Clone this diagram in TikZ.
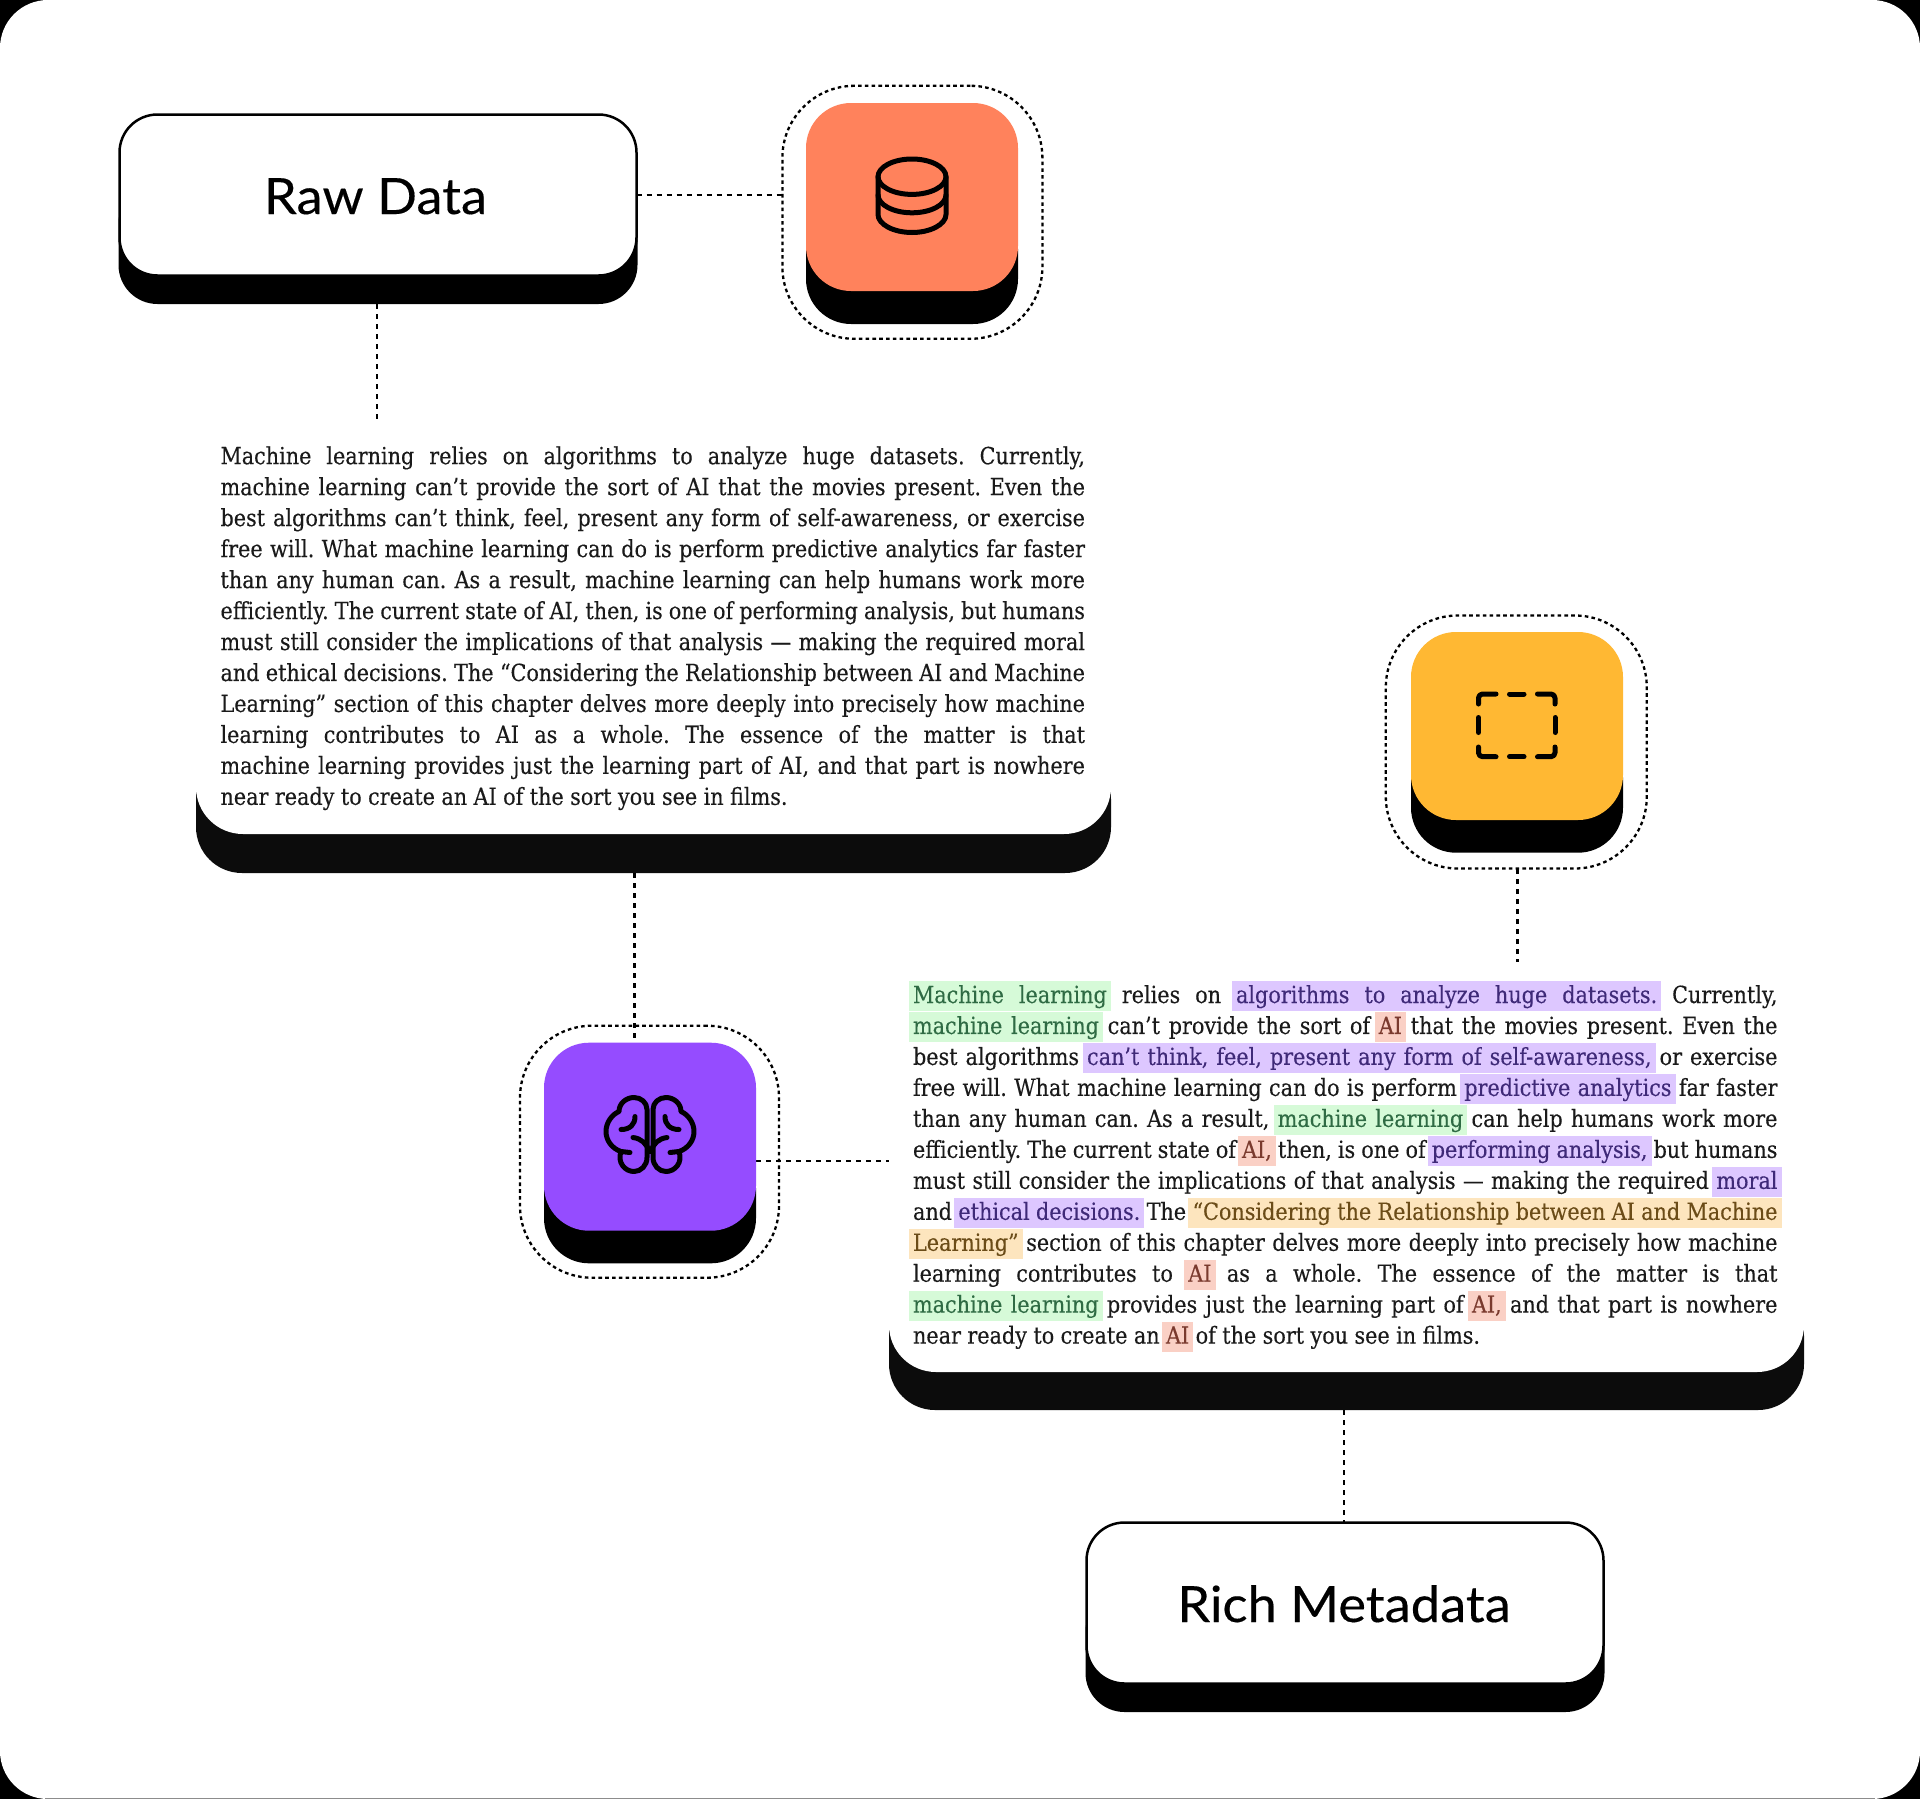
\documentclass[tikz,border=0pt]{standalone}
\usepackage{fontspec}
\setmainfont{DejaVu Serif}[FakeStretch=0.88,FakeBold=0.25]
\newfontfamily\titlefont{Lato}[FakeStretch=1.05,FakeBold=0.3]
\definecolor{ink}{HTML}{1A1A1A}
\definecolor{cardshadow}{HTML}{0C0C0C}
\definecolor{orangetile}{HTML}{FF825C}
\definecolor{purpletile}{HTML}{954CFF}
\definecolor{yellowtile}{HTML}{FFB833}
\definecolor{hlg}{HTML}{D6FAD8}\definecolor{txg}{HTML}{2F6B44}
\definecolor{hlp}{HTML}{DDC7FF}\definecolor{txp}{HTML}{3F2A78}
\definecolor{hlo}{HTML}{FDE5BE}\definecolor{txo}{HTML}{6B4C18}
\definecolor{hlr}{HTML}{FAD0C5}\definecolor{txr}{HTML}{7A3A2E}
\newdimen\linew
\def\hlrule#1{{\color{\hlbg}\vrule height22pt depth8pt width#1}}
\def\hlword#1{\setbox0\hbox{{\color{\hlfg}#1}}\rlap{\hlrule{\wd0}}\box0 }
\def\hlspace{{\color{\hlbg}\leaders\hrule height22pt depth8pt\hskip\spaceskip}}
\def\hlloop#1 #2\relax{\hlword{#1}\if\relax\detokenize{#2}\relax\else\hlspace\hlloop#2\relax\fi}
\newcommand\HL[3]{\def\hlbg{#1}\def\hlfg{#2}\llap{\hlrule{4pt}}\hlloop#3 \relax\rlap{\hlrule{4pt}}}
\newcommand\HG[1]{\HL{hlg}{txg}{#1}}
\newcommand\HP[1]{\HL{hlp}{txp}{#1}}
\newcommand\HO[1]{\HL{hlo}{txo}{#1}}
\newcommand\HR[1]{\HL{hlr}{txr}{#1}}
\newcommand\JL[1]{\hbox to\linew{#1}}
\newcommand\LL[1]{\hbox{#1}}
\newcommand\paraset{\fontsize{23.6}{30.97}\selectfont\color{ink}\frenchspacing\spaceskip=6.4pt plus 60pt minus 5.6pt\relax\baselineskip=30.97pt\lineskiplimit=-100pt\lineskip=0pt\relax}
\tikzset{
 boxface/.style={rectangle,rounded corners=38pt,fill=white,draw=black,line width=2.5pt,inner sep=0pt,outer sep=0pt,minimum width=517pt,minimum height=161pt},
 boxshadow/.style={rectangle,rounded corners=39pt,fill=black,draw=none,inner sep=0pt,outer sep=0pt,minimum width=519pt,minimum height=120pt},
 cardface/.style={rectangle,rounded corners=47pt,fill=white,draw=none,inner sep=0pt,outer sep=0pt,minimum width=915pt,minimum height=120pt},
 cardshade/.style={rectangle,rounded corners=46pt,fill=cardshadow,draw=none,inner sep=0pt,outer sep=0pt,minimum width=915pt,minimum height=120pt},
 tileface/.style={rectangle,rounded corners=45pt,draw=none,inner sep=0pt,outer sep=0pt,minimum width=212pt,minimum height=188pt},
 tileshade/.style={rectangle,rounded corners=45pt,fill=black,draw=none,inner sep=0pt,outer sep=0pt,minimum width=212pt,minimum height=120pt},
 ringbox/.style={rectangle,rounded corners=72pt,draw=black,line width=2.3pt,dash pattern=on 3.6pt off 3.2pt,inner sep=0pt,outer sep=0pt,minimum width=260pt,minimum height=253pt},
 conn/.style={draw=black,line width=2.5pt,dash pattern=on 5pt off 5pt},
 icon/.style={draw=black,line width=5pt,line cap=round,line join=round},
 titletext/.style={font=\titlefont\fontsize{50}{58}\selectfont,text=black,anchor=base,inner sep=0pt},
 para/.style={anchor=base west,inner sep=0pt,outer sep=0pt}
}
\newcommand\brainhalf{%
 \draw[icon] (-3,-24) .. controls (-3,-31) and (-9,-36) .. (-16,-36)
   .. controls (-24,-36) and (-31,-30) .. (-31,-22)
   .. controls (-38,-19) and (-44,-11) .. (-44,-2)
   .. controls (-44,7) and (-38,15) .. (-29,18)
   .. controls (-33,29) and (-25,38) .. (-16,38)
   .. controls (-9,38) and (-3,32) .. (-3,24) -- cycle;
 \draw[icon] (-29,18) -- (-20,19);
 \draw[icon] (-15,-17) .. controls (-15,-9) and (-20,-4) .. (-29,-4);
 \draw[icon] (-17,4) .. controls (-9,5) and (-3,10) .. (-1,18);
}
\begin{document}
\begin{tikzpicture}[x=1pt,y=-1pt]
\useasboundingbox (0,0) rectangle (1920,1799);
\fill[black] (0,0) rectangle (1920,1799);
\fill[white,rounded corners=48pt] (0,0) rectangle (1920,1799);
\fill[black!45] (45,1798) rectangle (1875,1799);

% shadows and faces of the boxes
\node[boxshadow,minimum height=120pt] (rawshade) at (378,244) {};
\node[boxface] (raw) at (378,195) {};
\node[titletext] (rawlabel) at (375.5,214) {Raw Data};

\node[boxshadow] (richshade) at (1345,1652) {};
\node[boxface] (rich) at (1345,1603) {};
\node[titletext] (richlabel) at (1344,1622) {Rich Metadata};

\node[cardshade] (cardoneshade) at (653.5,813) {};
\node[cardface,minimum height=400pt] (cardone) at (653.5,634) {};
\node[cardshade] (cardtwoshade) at (1346.5,1350) {};
\node[cardface,minimum height=400pt] (cardtwo) at (1346.5,1172) {};

% connectors
\coordinate (rawfoot) at (377,422);
\coordinate (textfoot) at (1344,1410);
\coordinate (cardonefoot) at (634.5,873);
\coordinate (brainhead) at (634.5,1043);
\coordinate (brainright) at (756,1161);
\coordinate (cardtwoleft) at (889,1161);
\coordinate (yellowfoot) at (1517.7,869);
\coordinate (cardtwotop) at (1517.7,962);
\coordinate (richtop) at (1344,1522);
\coordinate (rawbottom) at (377,304);

% tiles
\node[tileshade] (orangeshade) at (912,264) {};
\node[tileface,fill=orangetile] (orange) at (912,197) {};
\node[ringbox] (orangering) at (912.4,212.3) {};

\node[tileshade] (purpleshade) at (650,1203.3) {};
\node[ringbox,minimum width=259pt,minimum height=252pt] (purplering) at (649.5,1151.7) {};

\draw[conn] (raw.east) -- (orangering.west |- raw.east);
\draw[conn] (rawbottom) -- (rawfoot);
\draw[conn] (cardonefoot) -- (brainhead);
\draw[conn] (brainright) -- (cardtwoleft);
\draw[conn] (yellowfoot) -- (cardtwotop);
\draw[conn] (textfoot) -- (richtop);

\node[tileface,fill=purpletile] (purple) at (650,1136.7) {};

\node[tileshade] (yellowshade) at (1517,792.7) {};
\node[tileface,fill=yellowtile] (yellow) at (1517,726) {};
\node[ringbox,minimum width=261pt,minimum height=253pt] (yellowring) at (1516.3,742) {};

% database icon
\draw[icon] (878,176.7) .. controls (878,167) and (893.2,159) .. (912,159)
  .. controls (930.8,159) and (946,167) .. (946,176.7)
  .. controls (946,186.4) and (930.8,194.4) .. (912,194.4)
  .. controls (893.2,194.4) and (878,186.4) .. (878,176.7) -- cycle;
\draw[icon] (878,176.7) -- (878,214.5) .. controls (878,224.2) and (893.2,232.5) .. (912,232.5)
  .. controls (930.8,232.5) and (946,224.2) .. (946,214.5) -- (946,176.7);
\draw[icon] (878,195) .. controls (878,204.7) and (893.2,212.8) .. (912,212.8)
  .. controls (930.8,212.8) and (946,204.7) .. (946,195);

% brain icon
\begin{scope}[shift={(650,1133.5)}]
 \brainhalf
 \begin{scope}[xscale=-1]\brainhalf\end{scope}
\end{scope}

% dashed selection icon
\draw[icon,rounded corners=4pt] (1478.5,704) -- (1478.5,694) -- (1496,694);
\draw[icon] (1509.5,694) -- (1524,694);
\draw[icon,rounded corners=4pt] (1537.5,694) -- (1555,694) -- (1555,704);
\draw[icon] (1478.5,717.5) -- (1478.5,732.5);
\draw[icon] (1555,717.5) -- (1555,732.5);
\draw[icon,rounded corners=4pt] (1478.5,747) -- (1478.5,756.7) -- (1496,756.7);
\draw[icon] (1509.5,756.7) -- (1524,756.7);
\draw[icon,rounded corners=4pt] (1537.5,756.7) -- (1555,756.7) -- (1555,747);

% paragraphs
\node[para] (plain) at (220.5,464.2) {\linew=864.5pt\paraset\vtop{%
\JL{Machine learning relies on algorithms to analyze huge datasets. Currently,}
\JL{machine learning can’t provide the sort of AI that the movies present. Even the}
\JL{best algorithms can’t think, feel, present any form of self-awareness, or exercise}
\JL{free will. What machine learning can do is perform predictive analytics far faster}
\JL{than any human can. As a result, machine learning can help humans work more}
\JL{efficiently. The current state of AI, then, is one of performing analysis, but humans}
\JL{must still consider the implications of that analysis — making the required moral}
\JL{and ethical decisions. The “Considering the Relationship between AI and Machine}
\JL{Learning” section of this chapter delves more deeply into precisely how machine}
\JL{learning contributes to AI as a whole. The essence of the matter is that}
\JL{machine learning provides just the learning part of AI, and that part is nowhere}
\LL{near ready to create an AI of the sort you see in films.}}};

\node[para] (marked) at (913,1003) {\linew=864.5pt\paraset\vtop{%
\JL{\HG{Machine learning} relies on \HP{algorithms to analyze huge datasets.} Currently,}
\JL{\HG{machine learning} can’t provide the sort of \HR{AI} that the movies present. Even the}
\JL{best algorithms \HP{can’t think, feel, present any form of self-awareness,} or exercise}
\JL{free will. What machine learning can do is perform \HP{predictive analytics} far faster}
\JL{than any human can. As a result, \HG{machine learning} can help humans work more}
\JL{efficiently. The current state of \HR{AI,} then, is one of \HP{performing analysis,} but humans}
\JL{must still consider the implications of that analysis — making the required \HP{moral}}
\JL{and \HP{ethical decisions.} The \HO{“Considering the Relationship between AI and Machine}}
\JL{\HO{Learning”} section of this chapter delves more deeply into precisely how machine}
\JL{learning contributes to \HR{AI} as a whole. The essence of the matter is that}
\JL{\HG{machine learning} provides just the learning part of \HR{AI,} and that part is nowhere}
\LL{near ready to create an \HR{AI} of the sort you see in films.}}};
\end{tikzpicture}
\end{document}
